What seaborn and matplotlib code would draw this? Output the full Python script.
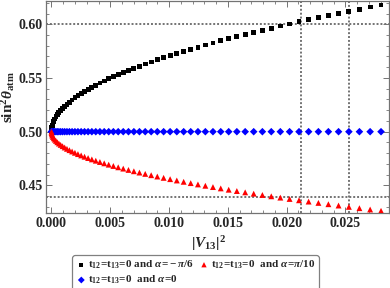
import numpy as np
import pandas as pd
import matplotlib
matplotlib.use("Agg")
import matplotlib.pyplot as plt
import seaborn as sns
from matplotlib.ticker import MultipleLocator, FormatStrFormatter

# |V13|^2 values (same grid for all three series)
v13_sq = [0.0, 0.0000078, 0.0000311, 0.0000701, 0.0001245, 0.0001946, 0.0002802,
          0.0003814, 0.0004982, 0.0006305, 0.0007784, 0.0009419, 0.0011209, 0.0013155,
          0.0015257, 0.0017514, 0.0019927, 0.0022496, 0.0025220, 0.0028101, 0.0031136,
          0.0034328, 0.0037675, 0.0041178, 0.0044836, 0.0048651, 0.0052621, 0.0056746,
          0.0061027, 0.0065464, 0.0070057, 0.0074805, 0.0079709, 0.0084769, 0.0089984,
          0.0095355, 0.0100882, 0.0106564, 0.0112402, 0.0118396, 0.0124546, 0.0130851,
          0.0137312, 0.0143928, 0.0150700, 0.0157628, 0.0164712, 0.0171951, 0.0179346,
          0.0186896, 0.0194603, 0.0202464, 0.0210482, 0.0218655, 0.0226984, 0.0235469,
          0.0244109, 0.0252905, 0.0261857, 0.0270964, 0.0280228]

# sin^2(theta_atm) for alpha = -pi/6 (black squares)
s23_neg_pi6 = [0.5, 0.50197, 0.50393, 0.50590, 0.50787, 0.50983, 0.51180, 0.51377,
               0.51574, 0.51770, 0.51967, 0.52164, 0.52360, 0.52557, 0.52754, 0.52950,
               0.53147, 0.53344, 0.53541, 0.53737, 0.53934, 0.54131, 0.54327, 0.54524,
               0.54721, 0.54917, 0.55114, 0.55311, 0.55507, 0.55704, 0.55901, 0.56098,
               0.56294, 0.56491, 0.56688, 0.56884, 0.57081, 0.57278, 0.57474, 0.57671,
               0.57868, 0.58064, 0.58261, 0.58458, 0.58655, 0.58851, 0.59048, 0.59245,
               0.59441, 0.59638, 0.59835, 0.60031, 0.60228, 0.60425, 0.60622, 0.60818,
               0.61015, 0.61212, 0.61408, 0.61605, 0.61802]

# alpha = pi/10 (red triangles)
s23_pi10 = [0.5, 0.49877, 0.49754, 0.49632, 0.49509, 0.49386, 0.49263, 0.49141,
            0.49018, 0.48895, 0.48772, 0.48650, 0.48527, 0.48404, 0.48281, 0.48159,
            0.48036, 0.47913, 0.47790, 0.47668, 0.47545, 0.47422, 0.47299, 0.47177,
            0.47054, 0.46931, 0.46808, 0.46685, 0.46563, 0.46440, 0.46317, 0.46194,
            0.46072, 0.45949, 0.45826, 0.45703, 0.45581, 0.45458, 0.45335, 0.45212,
            0.45090, 0.44967, 0.44844, 0.44721, 0.44599, 0.44476, 0.44353, 0.44230,
            0.44108, 0.43985, 0.43862, 0.43739, 0.43616, 0.43494, 0.43371, 0.43248,
            0.43125, 0.43003, 0.42880, 0.42757, 0.42634]

# alpha = 0 (blue diamonds) stays maximal
s23_zero = [0.5] * len(v13_sq)

# dotted reference lines
h_lines = [0.60, 0.4392]
v_lines = [0.02124, 0.02526]

sns.set_style("ticks")
plt.rcParams['font.family'] = ['Liberation Serif', 'DejaVu Serif']
plt.rcParams['font.weight'] = 'bold'
plt.rcParams['mathtext.fontset'] = 'custom'
plt.rcParams['mathtext.rm'] = 'Liberation Serif:bold'
plt.rcParams['mathtext.it'] = 'Liberation Serif:italic:bold'
plt.rcParams['mathtext.bf'] = 'Liberation Serif:bold'

df = pd.DataFrame({'x': v13_sq, 'neg': s23_neg_pi6, 'pos': s23_pi10, 'zero': s23_zero})

fig = plt.figure(figsize=(3.9, 2.88), dpi=100)
ax = fig.add_axes([0.1192, 0.2604, 0.8782, 0.7344])

for y in h_lines:
    ax.axhline(y, color='0.45', ls=(0, (1, 1)), lw=1.4, zorder=1)
for x in v_lines:
    ax.axvline(x, color='0.45', ls=(0, (1, 1)), lw=1.4, zorder=1)

lab_neg = r'$\mathrm{t_{12}\!=\!t_{13}\!=\!0\ and\ }\alpha\!=\!-\pi/6$'
lab_pos = r'$\mathrm{t_{12}\!=\!t_{13}\!=\!0\ \ and\ }\alpha\!=\!\pi/10$'
lab_zero = r'$\mathrm{t_{12}\!=\!t_{13}\!=\!0\ \ and\ }\alpha\!=\!0$'

sns.scatterplot(data=df, x='x', y='neg', marker='s', s=12, color='black',
                edgecolor='none', ax=ax, label=lab_neg, zorder=3)
sns.scatterplot(data=df, x='x', y='zero', marker='D', s=15, color='blue',
                edgecolor='none', ax=ax, label=lab_zero, zorder=3)
sns.scatterplot(data=df, x='x', y='pos', marker='^', s=18, color='red',
                edgecolor='none', ax=ax, label=lab_pos, zorder=3)

ax.set_xlim(-0.000425, 0.0287)
ax.set_ylim(0.4243, 0.6212)

ax.xaxis.set_major_locator(MultipleLocator(0.005))
ax.xaxis.set_minor_locator(MultipleLocator(0.001))
ax.yaxis.set_major_locator(MultipleLocator(0.05))
ax.yaxis.set_minor_locator(MultipleLocator(0.01))
ax.xaxis.set_major_formatter(FormatStrFormatter('%.3f'))
ax.yaxis.set_major_formatter(FormatStrFormatter('%.2f'))
ax.tick_params(which='both', direction='in', top=True, right=True,
               color='0.45', labelsize=10, pad=3)
ax.tick_params(which='major', length=4, width=0.7)
ax.tick_params(which='minor', length=2, width=0.6)
for sp in ax.spines.values():
    sp.set_color('0.45')
    sp.set_linewidth(0.9)

ax.set_xlabel(r'$|V_{13}|^2$', fontsize=11)
ax.set_ylabel(r'$\mathrm{sin}^2\theta_{\mathrm{atm}}$', fontsize=11)
ax.xaxis.set_label_coords(0.474, -0.1)
ax.yaxis.set_label_coords(-0.085, 0.55)

leg = ax.legend(loc='upper center', bbox_to_anchor=(0.435, -0.2), ncol=2,
                fontsize=8, frameon=True, fancybox=True, framealpha=1,
                edgecolor='0.5', handletextpad=0.1, columnspacing=0.4,
                labelspacing=0.25, borderpad=0.3, handlelength=1.0,
                markerscale=0.9, borderaxespad=0)
leg.get_frame().set_linewidth(0.9)

fig.canvas.draw()
for t in ax.get_xticklabels() + ax.get_yticklabels():
    t.set_fontweight('bold')

fig.savefig('out.png', dpi=100)
